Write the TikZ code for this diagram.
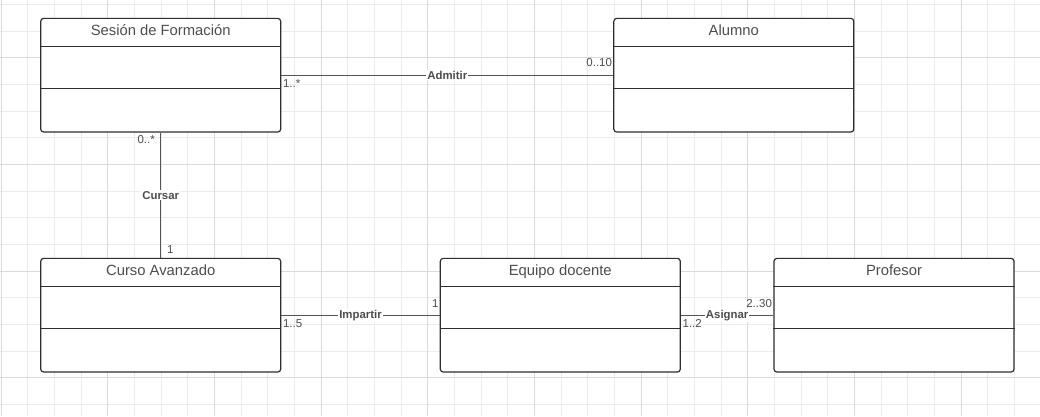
\documentclass[tikz,border=0pt]{standalone}
\usepackage{fontspec}
\setmainfont{Liberation Sans}
\usetikzlibrary{calc}
\definecolor{gridminor}{HTML}{EBEBEB}
\definecolor{gridmajor}{HTML}{DADADA}
\definecolor{boxline}{HTML}{2E2E2E}
\definecolor{relline}{HTML}{555555}
\definecolor{labeltext}{HTML}{4D4D4D}
\begin{document}
\begin{tikzpicture}[x=1pt,y=-1pt,
  umlclass/.style={draw=boxline, line width=1.2pt, rounded corners=3pt, fill=white, minimum width=240pt, minimum height=113.7pt, inner sep=0pt},
  classname/.style={anchor=base, text=labeltext, inner sep=0pt, font=\fontsize{14.8}{17}\selectfont},
  compartment/.style={draw=boxline, line width=1.2pt},
  assoc/.style={draw=relline, line width=0.9pt},
  assocname/.style={fill=white, text=labeltext, inner sep=1pt, font=\fontsize{11.4}{13}\selectfont\bfseries},
  mult/.style={text=labeltext, inner sep=1pt, font=\fontsize{11.5}{13}\selectfont}]
\useasboundingbox (0,0) rectangle (1040,416);
\fill[white] (0,0) rectangle (1040,416);
\foreach \k in {0,...,38} \draw[gridminor, line width=0.8pt] ({1+26.667*\k},0) -- ({1+26.667*\k},416);
\foreach \k in {0,...,15} \draw[gridminor, line width=0.8pt] (0,{4.33+26.667*\k}) -- (1040,{4.33+26.667*\k});
\foreach \k in {0,4,...,36} \draw[gridmajor, line width=0.8pt] ({1+26.667*\k},0) -- ({1+26.667*\k},416);
\foreach \k in {2,6,10,14} \draw[gridmajor, line width=0.8pt] (0,{4.33+26.667*\k}) -- (1040,{4.33+26.667*\k});

\node[umlclass] (sesion) at (160.7,75.2) {};
\node[umlclass] (alumno) at (733.8,75.2) {};
\node[umlclass] (curso) at (160.7,315.2) {};
\node[umlclass] (equipo) at (560.3,315.2) {};
\node[umlclass] (profesor) at (894,315.2) {};

\node[classname] at ($(sesion.north)+(0,17.4)$) {Sesión de Formación};
\node[classname] at ($(alumno.north)+(0,17.4)$) {Alumno};
\node[classname] at ($(curso.north)+(0,17.4)$) {Curso Avanzado};
\node[classname] at ($(equipo.north)+(0,17.4)$) {Equipo docente};
\node[classname] at ($(profesor.north)+(0,17.4)$) {Profesor};

\foreach \cls in {sesion,alumno,curso,equipo,profesor} {
  \draw[compartment] ($(\cls.north west)+(0,28.4)$) -- ($(\cls.north east)+(0,28.4)$);
  \draw[compartment] ($(\cls.north west)+(0,71)$) -- ($(\cls.north east)+(0,71)$);
}

\draw[assoc] (sesion.east) -- node[assocname] {Admitir} (alumno.west);
\draw[assoc] (sesion.south) -- node[assocname] {Cursar} (curso.north);
\draw[assoc] (curso.east) -- node[assocname] {Impartir} (equipo.west);
\draw[assoc] (equipo.east) -- node[assocname] {Asignar} (profesor.west);

\node[mult, anchor=north west] (m1) at ($(sesion.east)+(0.5,3)$) {1..*};
\node[mult, anchor=south east] (m2) at ($(alumno.west)+(0,-7.3)$) {0..10};
\node[mult, anchor=north east] (m3) at ($(sesion.south)+(-4.7,2)$) {0..*};
\node[mult, anchor=south west] (m4) at ($(curso.north)+(5.3,-3.3)$) {1};
\node[mult, anchor=north west] (m5) at ($(curso.east)+(0.5,3)$) {1..5};
\node[mult, anchor=south east] (m6) at ($(equipo.west)+(0,-6.3)$) {1};
\node[mult, anchor=north west] (m7) at ($(equipo.east)+(0.5,3)$) {1..2};
\node[mult, anchor=south east] (m8) at ($(profesor.west)+(-0.3,-6.3)$) {2..30};
\end{tikzpicture}
\end{document}
